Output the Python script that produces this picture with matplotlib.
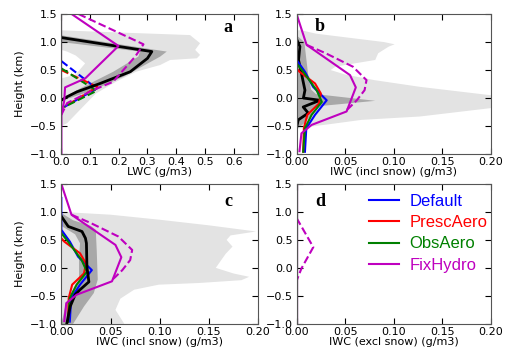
import matplotlib
matplotlib.use("Agg")
import matplotlib.pyplot as plt
import numpy as np

# ---------------- data ----------------
# panel a : LWC
a_light_x = [0.0, 0.10, 0.448, 0.483, 0.466, 0.483, 0.472, 0.379, 0.344, 0.26, 0.19, 0.12,
             0.065, 0.02, 0.0, 0.0, 0.05, 0.083, 0.05, 0.02, 0.0]
a_light_h = [1.21, 1.19, 1.125, 0.98, 0.86, 0.77, 0.71, 0.68, 0.59, 0.47, 0.29, 0.08,
             -0.21, -0.45, -0.5, 0.35, 0.42, 0.62, 0.76, 0.83, 0.86]
a_dark_x = [0.0, 0.152, 0.278, 0.367, 0.344, 0.259, 0.216, 0.111, 0.03, 0.0,
            0.02, 0.065, 0.181, 0.268, 0.274, 0.161, 0.0]
a_dark_h = [1.12, 1.0, 0.9, 0.83, 0.74, 0.5, 0.38, 0.14, 0.0, -0.05,
            0.04, 0.17, 0.47, 0.74, 0.83, 0.9, 1.0]
a_obs_x = [0.0, 0.315, 0.30, 0.24, 0.135, 0.054, 0.019, 0.0]
a_obs_h = [1.08, 0.83, 0.71, 0.47, 0.26, 0.11, 0.02, -0.04]
a_zero_x = [0.0, 0.0]
a_zero_h = [-1.0, 1.5]
a_def_dash_x = [0.0, 0.123, 0.01]
a_def_dash_h = [0.66, 0.17, -0.16]
a_presc_dash_x = [0.0, 0.125, 0.01]
a_presc_dash_h = [0.50, 0.20, -0.16]
a_obs_dash_x = [0.0, 0.123, 0.01]
a_obs_dash_h = [0.53, 0.13, -0.16]
a_fix_x = [0.036, 0.199, 0.083, 0.013, 0.01, 0.0, 0.0]
a_fix_h = [1.5, 0.93, 0.35, 0.19, -0.05, -0.3, -1.0]
a_fix_dash_x = [0.06, 0.286, 0.257, 0.18, 0.11, 0.02, 0.0]
a_fix_dash_h = [1.5, 0.96, 0.74, 0.29, 0.14, -0.09, -0.3]

# panels b/c : IWC incl snow, model runs
def_x = [0.0, 0.0, 0.0086, 0.017, 0.031, 0.019, 0.010, 0.0086]
def_h = [1.25, 0.68, 0.47, 0.20, -0.04, -0.30, -0.54, -0.96]
presc_x = [0.0, 0.003, 0.019, 0.025, 0.023, 0.011, 0.0075, 0.0068]
presc_h = [0.53, 0.47, 0.26, 0.08, -0.10, -0.30, -0.54, -0.96]
obsaero_x = [0.0, 0.0068, 0.0206, 0.026, 0.0155, 0.0086, 0.0068]
obsaero_h = [0.62, 0.47, 0.14, -0.07, -0.30, -0.54, -0.96]
fix_x = [0.0, 0.0103, 0.055, 0.061, 0.0515, 0.0155, 0.005, 0.003]
fix_h = [1.5, 0.95, 0.41, 0.19, -0.24, -0.48, -0.63, -0.95]
fix_dash_x = [0.0103, 0.03, 0.058, 0.072, 0.070, 0.062, 0.055, 0.05]
fix_dash_h = [0.95, 0.80, 0.56, 0.32, 0.14, -0.04, -0.16, -0.24]

# panel b observations
b_light_x = [0.0, 0.005, 0.02, 0.09, 0.101, 0.095, 0.084, 0.081, 0.06, 0.04, 0.035, 0.05,
             0.08, 0.127, 0.20, 0.24, 0.24, 0.20, 0.127, 0.067, 0.037, 0.019, 0.0]
b_light_h = [1.21, 1.21, 1.15, 1.0, 0.96, 0.92, 0.80, 0.68, 0.62, 0.56, 0.50, 0.42,
             0.32, 0.20, 0.05, 0.0, -0.10, -0.18, -0.33, -0.39, -0.46, -0.50, -0.55]
b_dark_x = [0.0, 0.008, 0.010, 0.012, 0.015, 0.02, 0.081, 0.02, 0.015, 0.008, 0.0]
b_dark_h = [1.12, 1.0, 0.70, 0.40, 0.15, 0.07, -0.05, -0.15, -0.30, -0.45, -0.55]
b_obs_x = [0.0, 0.0034, 0.002, 0.005, 0.0086, 0.007, 0.024, 0.0068, 0.012, 0.0017, 0.0]
b_obs_h = [1.05, 0.92, 0.68, 0.44, 0.14, 0.0, -0.04, -0.16, -0.27, -0.39, -0.53]

# panel c observations
c_light_x = [0.0, 0.05, 0.10, 0.15, 0.198, 0.172, 0.168, 0.174, 0.167, 0.157, 0.175, 0.191,
             0.183, 0.14, 0.099, 0.074, 0.06, 0.055, 0.064, 0.0]
c_light_h = [1.0, 0.95, 0.86, 0.76, 0.65, 0.58, 0.50, 0.38, 0.25, 0.0, -0.10, -0.16,
             -0.22, -0.27, -0.30, -0.39, -0.55, -0.75, -1.0, -1.0]
c_dark_x = [0.0, 0.012, 0.03, 0.035, 0.036, 0.037, 0.033, 0.023, 0.012,
            0.0, 0.004, 0.012, 0.018, 0.018, 0.019, 0.014, 0.0]
c_dark_h = [0.98, 0.85, 0.75, 0.68, 0.30, -0.21, -0.45, -0.69, -1.0,
            -1.0, -0.69, -0.39, -0.20, 0.20, 0.44, 0.60, 0.75]
c_obs_x = [0.0, 0.007, 0.021, 0.0245, 0.0255, 0.026, 0.028, 0.019, 0.014, 0.009, 0.0055]
c_obs_h = [0.92, 0.74, 0.65, 0.53, 0.44, 0.02, -0.25, -0.39, -0.48, -0.69, -1.0]

# panel d : IWC excl snow
d_fix_dash_x = [0.0, 0.0172, 0.005, 0.0]
d_fix_dash_h = [0.89, 0.37, -0.01, -0.23]

labels = ["Default", "PrescAero", "ObsAero", "FixHydro"]
colors = ["b", "r", "g", "m"]

LIGHT = "#e3e3e3"
DARK = "#a8a8a8"

plt.rcParams.update({
    "font.family": "DejaVu Sans",
    "font.size": 8,
    "xtick.direction": "in",
    "ytick.direction": "in",
    "xtick.top": True,
    "ytick.right": True,
    "xtick.major.size": 4,
    "ytick.major.size": 4,
    "xtick.major.pad": 2,
    "ytick.major.pad": 3,
    "axes.edgecolor": "#555555",
    "axes.unicode_minus": True,
})

fig = plt.figure(figsize=(5.07, 3.52), dpi=100)
ax_a = fig.add_axes([0.121, 0.5625, 0.388, 0.3975])
ax_b = fig.add_axes([0.585, 0.5625, 0.383, 0.3975])
ax_c = fig.add_axes([0.121, 0.080, 0.388, 0.3975])
ax_d = fig.add_axes([0.585, 0.080, 0.383, 0.3975])

lw = 1.5

# ---- a ----
ax_a.fill(a_light_x, a_light_h, color=LIGHT, lw=0)
ax_a.fill(a_dark_x, a_dark_h, color=DARK, lw=0)
for c in colors[:3]:
    ax_a.plot(a_zero_x, a_zero_h, color=c, lw=lw)
ax_a.plot(a_def_dash_x, a_def_dash_h, "b--", lw=lw)
ax_a.plot(a_presc_dash_x, a_presc_dash_h, "r--", lw=lw)
ax_a.plot(a_obs_dash_x, a_obs_dash_h, "g--", lw=lw)
ax_a.plot(a_obs_x, a_obs_h, "k-", lw=2)
ax_a.plot(a_fix_x, a_fix_h, "m-", lw=lw)
ax_a.plot(a_fix_dash_x, a_fix_dash_h, "m--", lw=lw)
ax_a.set_xlim(0, 0.685)
ax_a.set_xticks([0.0, 0.1, 0.2, 0.3, 0.4, 0.5, 0.6])
ax_a.set_xlabel("LWC (g/m3)", labelpad=0)
ax_a.set_ylabel("Height (km)")


def iwc_models(ax):
    ax.plot(def_x, def_h, "b-", lw=lw)
    ax.plot(presc_x, presc_h, "r-", lw=lw)
    ax.plot(obsaero_x, obsaero_h, "g-", lw=lw)


# ---- b ----
ax_b.fill(b_light_x, b_light_h, color=LIGHT, lw=0)
ax_b.fill(b_dark_x, b_dark_h, color=DARK, lw=0)
ax_b.plot(b_obs_x, b_obs_h, "k-", lw=2)
iwc_models(ax_b)
ax_b.plot(fix_x, fix_h, "m-", lw=lw)
ax_b.plot(fix_dash_x, fix_dash_h, "m--", lw=lw)
ax_b.set_xlim(0, 0.2)
ax_b.set_xlabel("IWC (incl snow) (g/m3)", labelpad=0)

# ---- c ----
ax_c.fill(c_light_x, c_light_h, color=LIGHT, lw=0)
ax_c.fill(c_dark_x, c_dark_h, color=DARK, lw=0)
iwc_models(ax_c)
ax_c.plot(c_obs_x, c_obs_h, "k-", lw=2)
ax_c.plot(fix_x, fix_h, "m-", lw=lw)
ax_c.plot(fix_dash_x, fix_dash_h, "m--", lw=lw)
ax_c.set_xlim(0, 0.2)
ax_c.set_xlabel("IWC (incl snow) (g/m3)", labelpad=0)
ax_c.set_ylabel("Height (km)")

# ---- d ----
handles = []
for lab, c in zip(labels, colors):
    h, = ax_d.plot(a_zero_x, a_zero_h, color=c, lw=lw, label=lab)
    handles.append(h)
ax_d.plot(d_fix_dash_x, d_fix_dash_h, "m--", lw=lw)
ax_d.set_xlim(0, 0.2)
ax_d.set_xlabel("IWC (excl snow) (g/m3)", labelpad=0)
leg = ax_d.legend(handles=handles, loc="upper left", bbox_to_anchor=(0.375, 0.93),
                  frameon=False, prop={"family": "Liberation Sans", "size": 12},
                  handlelength=1.8, handletextpad=0.6, labelspacing=0.38,
                  borderpad=0, borderaxespad=0)
for txt, c in zip(leg.get_texts(), colors):
    txt.set_color(c)

for ax, letter, xp, yp in [(ax_a, "a", 0.847, 0.907), (ax_b, "b", 0.12, 0.914),
                           (ax_c, "c", 0.847, 0.871), (ax_d, "d", 0.12, 0.871)]:
    ax.set_ylim(-1.0, 1.5)
    ax.set_yticks([-1.0, -0.5, 0.0, 0.5, 1.0, 1.5])
    ax.text(xp, yp, letter, transform=ax.transAxes, ha="center", va="center",
            family="Liberation Serif", weight="bold", size=13)

fig.savefig("out.png", dpi=100)
